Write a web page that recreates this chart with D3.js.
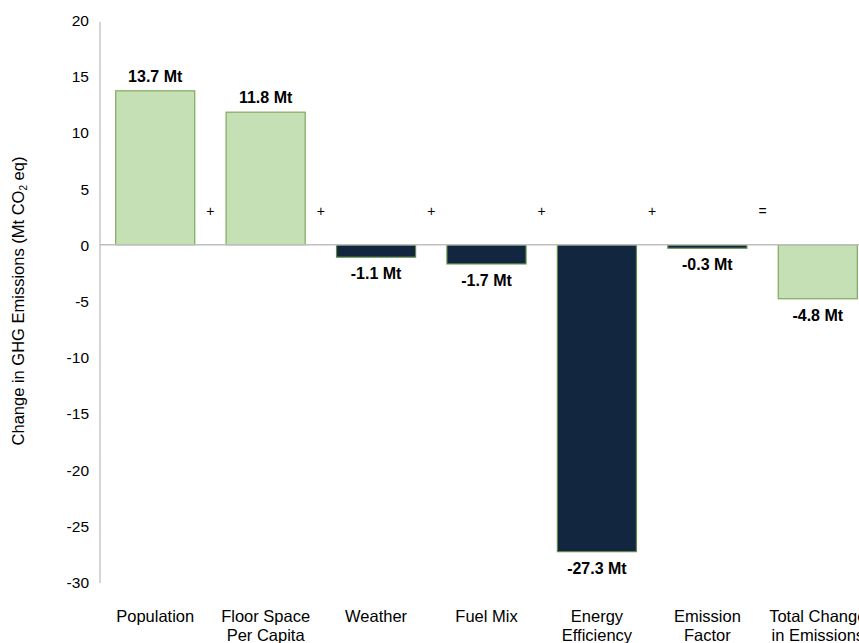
<!DOCTYPE html>
<html>
<head>
<meta charset="utf-8">
<script src="https://cdn.jsdelivr.net/npm/d3@7"></script>
<style>
  html, body { margin: 0; padding: 0; background: #fff; }
  svg { display: block; font-family: "Liberation Sans", Arial, sans-serif; }
</style>
</head>
<body>
<svg id="chart" width="859" height="643"></svg>
<script>
// Decomposition of the change in GHG emissions by factor
const categories = [
  ["Population"],
  ["Floor Space", "Per Capita"],
  ["Weather"],
  ["Fuel Mix"],
  ["Energy", "Efficiency"],
  ["Emission", "Factor"],
  ["Total Change", "in Emissions"]
];
const values = [13.7, 11.8, -1.1, -1.7, -27.3, -0.3, -4.8];
const barKinds = ["light", "light", "dark", "dark", "dark", "dark", "light"];
const operators = ["+", "+", "+", "+", "+", "="];
const yTicks = [20, 15, 10, 5, 0, -5, -10, -15, -20, -25, -30];

const svg = d3.select("#chart");
const fills = { light: "#c5e0b4", dark: "#13263f" };
const strokes = { light: "#7fa85e", dark: "#5f8a45" };

// plain hyphen for negative numbers
const locale = d3.formatLocale({ decimal: ".", thousands: ",", grouping: [3], currency: ["", ""], minus: "-" });
const fmtTick = locale.format("d");
const fmtValue = locale.format(".1f");

const x = d3.scaleBand()
  .domain(d3.range(categories.length))
  .range([100, 873])
  .paddingInner(0.275)
  .paddingOuter(0.1375);

const y = d3.scaleLinear().domain([-30, 20]).range([582, 20]);

// value axis: line and labels only
const yAxis = d3.axisLeft(y).tickValues(yTicks).tickSize(0).tickPadding(11)
  .tickFormat(fmtTick);
const gy = svg.append("g").attr("transform", "translate(100,0)").call(yAxis);
gy.select(".domain").attr("stroke", "#bfbfbf").attr("stroke-width", 1.3)
  .attr("d", `M0,${y(20) + 2}V${y(-30) + 1}`);
gy.selectAll(".tick text")
  .attr("fill", "#000")
  .style("font-size", "15.5px")
  .style("font-family", "'Liberation Sans', Arial, sans-serif")
  .attr("dy", "0.35em");

// bars
svg.append("g").selectAll("rect")
  .data(values)
  .join("rect")
  .attr("x", (d, i) => x(i) + 0.5)
  .attr("width", x.bandwidth() - 1)
  .attr("y", d => y(Math.max(0, d)))
  .attr("height", d => Math.abs(y(d) - y(0)))
  .attr("fill", (d, i) => fills[barKinds[i]])
  .attr("stroke", (d, i) => strokes[barKinds[i]])
  .attr("stroke-width", 1.2);

// zero line
svg.append("line")
  .attr("x1", 100).attr("x2", 859)
  .attr("y1", y(0)).attr("y2", y(0))
  .attr("stroke", "#bfbfbf").attr("stroke-width", 1.5);

// value labels
svg.append("g").selectAll("text")
  .data(values)
  .join("text")
  .attr("x", (d, i) => x(i) + x.bandwidth() / 2)
  .attr("y", d => d >= 0 ? y(d) - 9 : y(d) + 22)
  .attr("text-anchor", "middle")
  .style("font-size", "16px")
  .style("font-weight", "bold")
  .attr("fill", "#000")
  .text(d => fmtValue(d) + " Mt");

// operators between bars
const gapHalf = (x.step() - x.bandwidth()) / 2;
svg.append("g").selectAll("text")
  .data(operators)
  .join("text")
  .attr("x", (d, i) => x(i) + x.bandwidth() + gapHalf)
  .attr("y", y(0) - 29)
  .attr("text-anchor", "middle")
  .style("font-size", "14px")
  .attr("fill", "#000")
  .text(d => d);

// category labels
const cat = svg.append("g").selectAll("text")
  .data(categories)
  .join("text")
  .attr("x", (d, i) => x(i) + x.bandwidth() / 2)
  .attr("y", 621.5)
  .attr("text-anchor", "middle")
  .style("font-size", "16.5px")
  .attr("fill", "#000");
cat.selectAll("tspan")
  .data(d => d)
  .join("tspan")
  .attr("x", function () { return d3.select(this.parentNode).attr("x"); })
  .attr("dy", (d, i) => i === 0 ? 0 : 19)
  .text(d => d);

// value axis title, centred on the axis span
const titleCenter = (y(20) + y(-30)) / 2;
const title = svg.append("text")
  .attr("transform", `translate(24,${titleCenter}) rotate(-90)`)
  .attr("text-anchor", "start")
  .style("font-size", "16.5px")
  .attr("fill", "#000");
title.append("tspan").text("Change in GHG Emissions (Mt CO");
title.append("tspan").text("2").style("font-size", "10px").attr("dy", 3);
title.append("tspan").text(" eq)").attr("dy", -3);
const titleLen = title.node().getComputedTextLength();
title.attr("x", -titleLen / 2);
</script>
</body>
</html>
